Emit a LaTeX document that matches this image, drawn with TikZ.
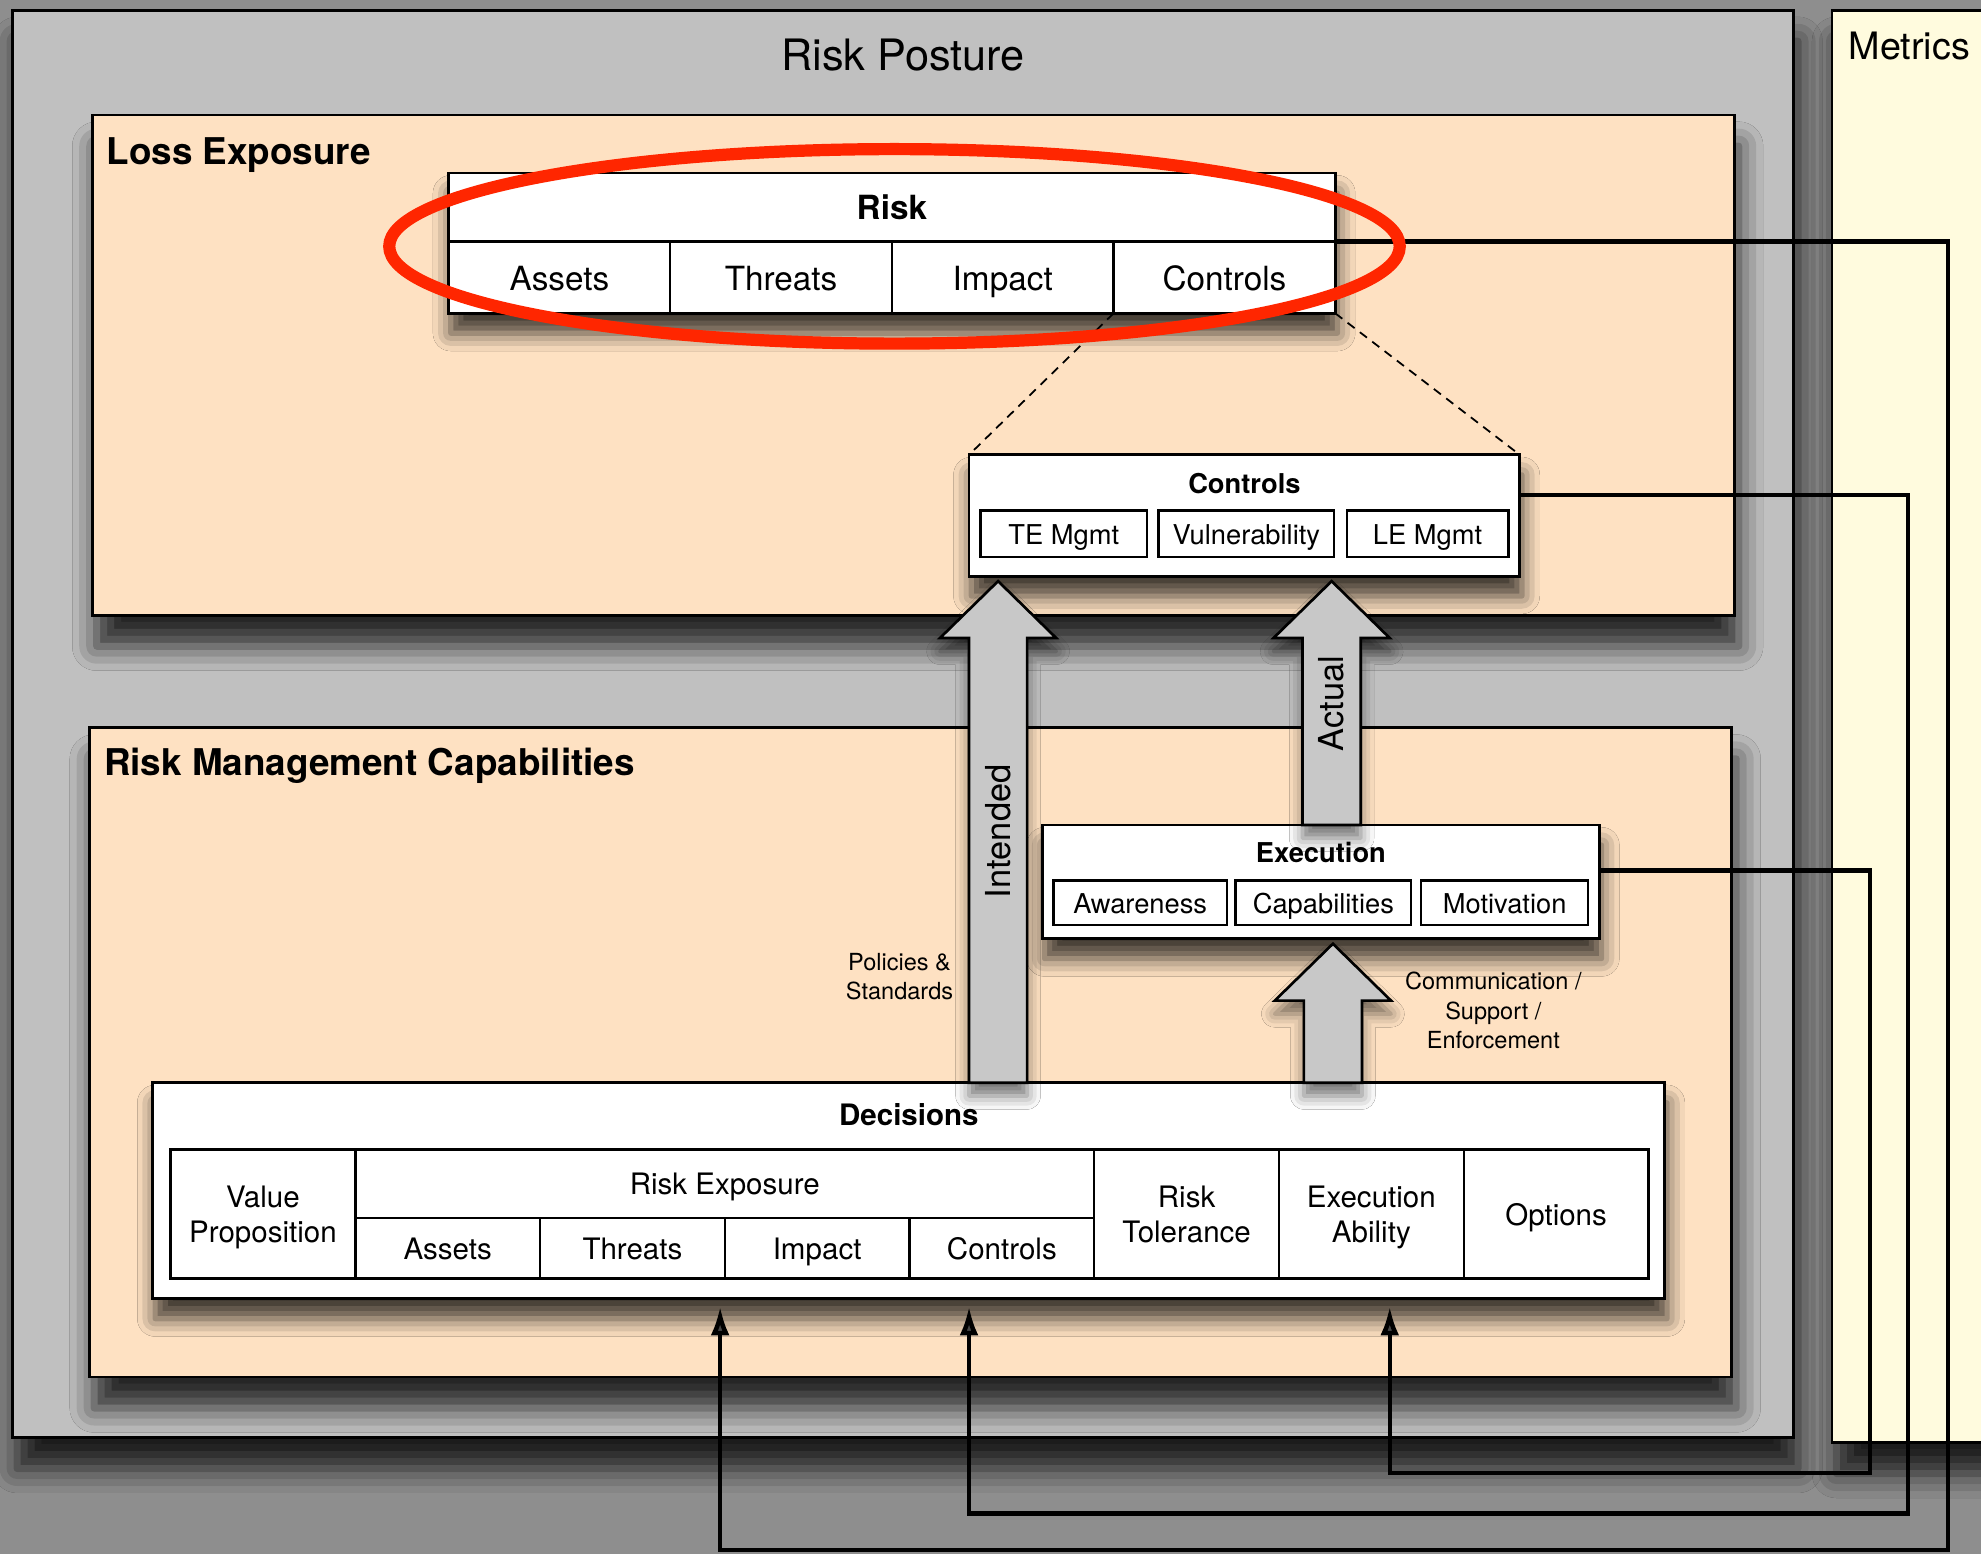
\documentclass[tikz,border=0pt]{standalone}
\usepackage{fontspec}
\setmainfont{TeX Gyre Heros}
\usepackage{tikz}
\usetikzlibrary{positioning,arrows.meta,shadows.blur}

\definecolor{outergray}{RGB}{142,142,142}
\definecolor{posturegray}{RGB}{192,192,192}
\definecolor{peach}{RGB}{254,225,194}
\definecolor{metricsyellow}{RGB}{255,251,222}
\definecolor{arrowgray}{RGB}{200,200,200}
\definecolor{markred}{RGB}{255,38,0}

\tikzset{
  softshadow/.style={blur shadow={shadow xshift=1pt,shadow yshift=-9pt,shadow blur radius=8pt,shadow opacity=75}},
  panel/.style={draw,line width=1.3pt,anchor=north west,inner sep=0pt,outer sep=0pt,
    blur shadow={shadow xshift=2pt,shadow yshift=-14pt,shadow blur radius=11pt,shadow opacity=80}},
  framebox/.style={draw,fill=white,line width=1.3pt,anchor=north west,inner sep=0pt,outer sep=0pt,softshadow},
  cell/.style={draw,fill=white,line width=1.1pt,anchor=north west,inner sep=0pt,outer sep=0pt,align=center,text depth=0pt},
  oneline/.style={text height=1em},
  bigtitle/.style={inner sep=0pt,anchor=base,font=\fontsize{19.5}{23}\selectfont},
  grouptitle/.style={inner sep=0pt,anchor=base west,font=\bfseries\fontsize{16.6}{20}\selectfont},
  boxtitle/.style={inner sep=0pt,anchor=base,font=\bfseries\fontsize{12.3}{15}\selectfont},
  blockarrow/.style={draw,fill=arrowgray,line width=1.2pt,line join=miter,
    blur shadow={shadow xshift=0pt,shadow yshift=-6pt,shadow blur radius=6pt,shadow opacity=55}},
  arrowlabel/.style={inner sep=0pt,rotate=90,font=\fontsize{15.5}{18}\selectfont},
  feedback/.style={line width=2pt,-{Latex[length=13pt,width=8.5pt]},shorten >=3.5pt},
  guide/.style={line width=0.8pt,dash pattern=on 4pt off 3pt},
  note/.style={align=center,inner sep=0pt,font=\fontsize{10.6}{13.3}\selectfont},
}

\begin{document}
\begin{tikzpicture}[x=0.02cm,y=-0.02cm]
  \fill[outergray] (0,0) rectangle (1568,1230);
  \useasboundingbox (0,0) rectangle (1568,1230);

  % outer panels
  \node[panel,fill=metricsyellow,minimum width=4cm,minimum height=22.68cm] (metrics) at (1450,8) {};
  \node[grouptitle,font=\fontsize{17}{20}\selectfont] (metricstitle) at ([xshift=0.26cm,yshift=-0.78cm]metrics.north west) {Metrics};
  \node[panel,fill=posturegray,minimum width=28.2cm,minimum height=22.6cm] (posture) at (10,8) {};
  \node[bigtitle] (posturetitle) at ([yshift=-0.96cm]posture.north) {Risk Posture};

  \node[panel,fill=peach,minimum width=26cm,minimum height=7.92cm] (loss) at (73,91) {};
  \node[grouptitle] (losstitle) at ([xshift=0.22cm,yshift=-0.78cm]loss.north west) {Loss Exposure};
  \node[panel,fill=peach,minimum width=26cm,minimum height=10.28cm] (rmc) at (71,576) {};
  \node[grouptitle] (rmctitle) at ([xshift=0.22cm,yshift=-0.76cm]rmc.north west) {Risk Management Capabilities};

  % risk table
  \begin{scope}[font=\fontsize{15}{18}\selectfont,oneline/.style={text height=1.15em}]
    \node[framebox,minimum width=14.04cm,minimum height=2.22cm] (riskframe) at (355,137) {};
    \node[cell,oneline,font=\bfseries\fontsize{15}{18}\selectfont,minimum width=14.04cm,minimum height=1.08cm] (riskhead) at (355,137) {Risk};
    \node[cell,oneline,minimum width=3.51cm,minimum height=1.14cm] (riskassets) at (riskhead.south west) {Assets};
    \node[cell,oneline,minimum width=3.51cm,minimum height=1.14cm,right=0pt of riskassets] (riskthreats) {Threats};
    \node[cell,oneline,minimum width=3.51cm,minimum height=1.14cm,right=0pt of riskthreats] (riskimpact) {Impact};
    \node[cell,oneline,minimum width=3.51cm,minimum height=1.14cm,right=0pt of riskimpact] (riskcontrols) {Controls};
  \end{scope}

  % controls box
  \begin{scope}[font=\fontsize{12.3}{15}\selectfont]
    \node[framebox,minimum width=8.72cm,minimum height=1.92cm] (ctrlbox) at (767,360) {};
    \node[boxtitle] (ctrltitle) at ([yshift=-0.62cm]ctrlbox.north) {Controls};
    \node[cell,oneline,minimum width=2.64cm,minimum height=0.74cm] (temgmt) at (776,404) {TE Mgmt};
    \node[cell,oneline,minimum width=2.78cm,minimum height=0.74cm,right=0.18cm of temgmt] (vuln) {Vulnerability};
    \node[cell,oneline,minimum width=2.56cm,minimum height=0.74cm,right=0.2cm of vuln] (lemgmt) {LE Mgmt};
  \end{scope}

  % execution box
  \begin{scope}[font=\fontsize{12.3}{15}\selectfont]
    \node[framebox,minimum width=8.82cm,minimum height=1.8cm] (execbox) at (825,653) {};
    \node[boxtitle] (exectitle) at ([yshift=-0.6cm]execbox.north) {Execution};
    \node[cell,oneline,minimum width=2.74cm,minimum height=0.7cm] (awareness) at (834,697) {Awareness};
    \node[cell,oneline,minimum width=2.78cm,minimum height=0.7cm,right=0.14cm of awareness] (capab) {Capabilities};
    \node[cell,oneline,minimum width=2.64cm,minimum height=0.7cm,right=0.16cm of capab] (motiv) {Motivation};
  \end{scope}

  % decisions box
  \begin{scope}[font=\fontsize{13.3}{16}\selectfont]
    \node[framebox,minimum width=23.94cm,minimum height=3.42cm] (decisions) at (121,857) {};
    \node[boxtitle,font=\bfseries\fontsize{13.3}{16}\selectfont] (dectitle) at ([yshift=-0.68cm]decisions.north) {Decisions};
    \node[cell,minimum width=2.925cm,minimum height=2.04cm] (valueprop) at (135,910) {Value\\Proposition};
    \node[cell,oneline,minimum width=11.7cm,minimum height=1.08cm] (riskexp) at (valueprop.north east) {Risk Exposure};
    \node[cell,oneline,minimum width=2.925cm,minimum height=0.96cm] (expassets) at (riskexp.south west) {Assets};
    \node[cell,oneline,minimum width=2.925cm,minimum height=0.96cm,right=0pt of expassets] (expthreats) {Threats};
    \node[cell,oneline,minimum width=2.925cm,minimum height=0.96cm,right=0pt of expthreats] (expimpact) {Impact};
    \node[cell,oneline,minimum width=2.925cm,minimum height=0.96cm,right=0pt of expimpact] (expcontrols) {Controls};
    \node[cell,minimum width=2.925cm,minimum height=2.04cm] (risktol) at (riskexp.north east) {Risk\\Tolerance};
    \node[cell,minimum width=2.925cm,minimum height=2.04cm,right=0pt of risktol] (execability) {Execution\\Ability};
    \node[cell,oneline,minimum width=2.925cm,minimum height=2.04cm,right=0pt of execability] (options) {Options};
  \end{scope}

  % block arrows
  \draw[blockarrow] (767,857) -- (767,505) -- (744,505) -- (790,460) -- (836,505) -- (813,505) -- (813,857) -- cycle;
  \draw[blockarrow] (1031,653) -- (1031,505) -- (1008,505) -- (1054,460) -- (1100,505) -- (1077,505) -- (1077,653) -- cycle;
  \draw[blockarrow] (1032,857) -- (1032,792) -- (1009,792) -- (1055,747) -- (1101,792) -- (1078,792) -- (1078,857) -- cycle;
  \node[arrowlabel] (intended) at (790,658) {Intended};
  \node[arrowlabel] (actual) at (1054,557) {Actual};
  \node[note] (policies) at (712,773) {Policies \&\\Standards};
  \node[note] (commsupport) at (1182,800) {Communication /\\Support /\\Enforcement};

  % dashed zoom lines
  \draw[guide] (riskcontrols.south west) -- (ctrlbox.north west);
  \draw[guide] (riskcontrols.south east) -- (ctrlbox.north east);

  % metric feedback lines
  \coordinate (execturn) at (1480,1166);
  \coordinate (execfoot) at (1100,1166);
  \coordinate (ctrlturn) at (1510,1198);
  \coordinate (ctrlfoot) at (767,1198);
  \coordinate (riskturn) at (1542,1227);
  \coordinate (riskfoot) at (570,1227);
  \draw[feedback] ([yshift=-0.64cm]ctrlbox.north east) -| (ctrlturn) -- (ctrlfoot) -- (ctrlfoot |- decisions.south);
  \draw[feedback] ([yshift=-0.72cm]execbox.north east) -| (execturn) -- (execfoot) -- (execfoot |- decisions.south);
  \draw[feedback] (riskhead.south east) -| (riskturn) -- (riskfoot) -- (riskfoot |- decisions.south);

  % highlight
  \draw[markred,line width=5.5pt] (708,195) ellipse [x radius=8cm,y radius=1.54cm];
\end{tikzpicture}
\end{document}
